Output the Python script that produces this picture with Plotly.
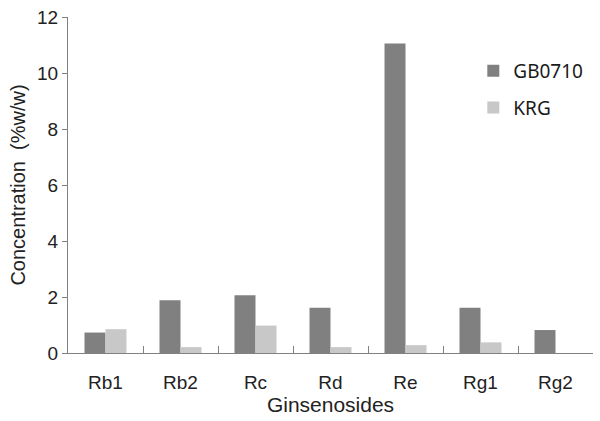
import plotly.graph_objects as go

ginsenosides = ['Rb1', 'Rb2', 'Rc', 'Rd', 'Re', 'Rg1', 'Rg2']
gb0710 = [0.73, 1.88, 2.06, 1.62, 11.05, 1.62, 0.82]
krg = [0.85, 0.21, 0.98, 0.21, 0.28, 0.38, 0.0]

fig = go.Figure()
fig.add_trace(go.Bar(x=ginsenosides, y=gb0710, name='GB0710', legendgroup='gb',
                     marker=dict(color='#808080', line=dict(width=0))))
fig.add_trace(go.Bar(x=ginsenosides, y=krg, name='KRG', legendgroup='krg',
                     marker=dict(color='#c8c8c8', line=dict(width=0))))

fig.update_layout(
    width=600, height=421,
    margin=dict(l=68, r=7, t=15, b=68),
    plot_bgcolor='white', paper_bgcolor='white',
    barmode='group', bargap=0.44, bargroupgap=0,
    font=dict(family='Liberation Sans, Arial', size=19, color='#222222'),
    legend=dict(
        x=0.772, y=0.896, xanchor='left', yanchor='top',
        font=dict(family='Noto Sans', size=19, color='#1a1a1a'),
        itemwidth=30, tracegroupgap=9, bgcolor='rgba(0,0,0,0)',
    ),
    xaxis=dict(
        showline=True, linecolor='#808080', linewidth=1,
        ticks='inside', tickson='boundaries', ticklen=7, tickcolor='#808080',
        tickfont=dict(size=19), showgrid=False, ticklabelstandoff=12,
        title=dict(text='Ginsenosides', font=dict(size=21), standoff=4),
    ),
    yaxis=dict(
        range=[0, 12], dtick=2, showline=True, linecolor='#808080', linewidth=1,
        ticks='outside', ticklen=5, tickcolor='#808080', showgrid=False, zeroline=False,
        tickfont=dict(size=19),
        title=dict(text='Concentration  (%w/w)', font=dict(size=20), standoff=6),
    ),
)

fig.write_html("out.html", config={'displayModeBar': False},
               post_script="document.body.style.margin='0';")
